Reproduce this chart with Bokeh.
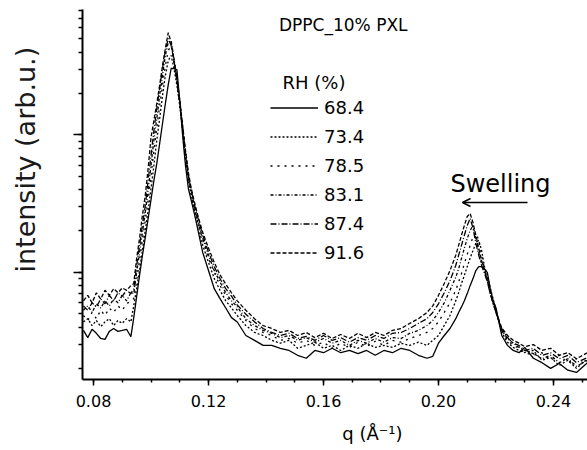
import math
import numpy as np
from bokeh.plotting import figure
from bokeh.models import (Range1d, FixedTicker, CustomJSTickFormatter, Legend, LegendItem,
                          Label, Arrow, OpenHead)
from bokeh.embed import file_html
from bokeh.resources import INLINE

# ---------------- data ----------------
q = [0.0765, 0.078, 0.0795, 0.081, 0.0825, 0.084, 0.0855, 0.087, 0.0885, 0.090, 0.0915, 0.093,
     0.094, 0.095, 0.096, 0.097, 0.098, 0.099, 0.100, 0.101, 0.102, 0.103, 0.104, 0.105, 0.106,
     0.107, 0.108, 0.109, 0.110, 0.111, 0.112, 0.113, 0.114, 0.115, 0.116,
     0.118, 0.120, 0.122, 0.124, 0.126, 0.128, 0.130,
     0.133, 0.136, 0.139, 0.142, 0.145, 0.148, 0.151, 0.154, 0.157, 0.160, 0.163, 0.166, 0.169,
     0.172, 0.175, 0.178, 0.181, 0.184, 0.187, 0.190, 0.193,
     0.196, 0.198, 0.200, 0.202, 0.204, 0.206,
     0.207, 0.208, 0.209, 0.210, 0.211, 0.212, 0.213, 0.214, 0.215, 0.216, 0.217, 0.218, 0.219, 0.220,
     0.222, 0.224, 0.226, 0.228, 0.230,
     0.233, 0.236, 0.239, 0.242, 0.245, 0.248,
     0.2518]

rh_labels = ["68.4", "73.4", "78.5", "83.1", "87.4", "91.6"]

I_68_4 = [37.8, 33.5, 38.5, 36, 33, 32.5, 37.2, 39, 37.2, 37.8, 38.5, 34,
          46.8, 66.5, 94.6, 132, 179, 246, 338, 465, 618, 864, 1210, 1690, 2320,
          3040, 3040, 2990, 1780, 988, 598, 407, 332, 272, 219,
          139, 103, 76, 64.4, 55, 46.8, 43.5,
          34.7, 32, 29.4, 29.4, 28, 27, 24.9, 23.7, 27, 26, 28, 26, 27, 25.6, 27, 24.9, 27, 26, 28, 27, 24.9,
          23.7, 24.5, 30.5, 34.7, 39, 46,
          51, 56, 62, 70, 80, 90, 103, 110, 110, 106, 99.5, 76, 62, 55,
          34.7, 29.4, 27, 26, 28.4,
          23.7, 22, 20, 21.7, 19.4, 18.7,
          22]

I_73_4 = [43.6, 46, 41, 44.6, 40.3, 43.6, 46, 41, 44.6, 42.5, 46, 43.6,
          57.2, 76, 103, 144, 201, 281, 407, 598, 909, 1310, 1930, 2700, 3470,
          3780, 3040, 2290, 1630, 1075, 672, 465, 362, 291, 238,
          157, 118, 90, 74, 62, 55, 48.5,
          41, 36.5, 34.7, 32, 30.5, 32, 28, 29.4, 31, 28, 29.4, 27, 29.4, 28, 30.5, 28.4, 29.4, 28.4, 30.5, 29.4, 31,
          29.4, 32, 34.7, 41, 48.5, 62,
          71, 83, 95, 110, 127, 144, 163, 171, 144, 110, 95, 77, 64, 53,
          36.5, 31, 28.4, 27, 26,
          27, 22.9, 24, 21, 22.9, 20,
          23.5]

I_78_5 = [48.5, 44.6, 51, 46, 53, 48.5, 55, 51, 57, 53, 59, 62,
          64.4, 87, 122, 170, 238, 332, 505, 769, 1110, 1630, 2290, 3190, 4110,
          4470, 3360, 2480, 1720, 1110, 707, 481, 374, 301, 246,
          171, 126, 99.5, 80, 68, 59, 53,
          44.6, 39, 36.5, 34.7, 32, 33, 30.5, 32, 29.4, 31, 28, 30.5, 28.4, 31, 28.8, 31.5, 29.4, 32, 31, 33, 34.7,
          36.5, 39, 43.6, 51, 60, 74,
          85, 98, 116, 135, 157, 181, 195, 171, 133, 106, 90, 74, 62, 51,
          37.8, 32, 29.4, 28, 26,
          24.9, 26, 22.9, 24.9, 22, 23.5,
          21]

I_83_1 = [53, 57, 51, 59, 55, 62, 57, 64, 60, 68, 62, 71,
          70, 99.5, 139, 194, 272, 393, 598, 909, 1310, 1930, 2700, 3780, 4700,
          4860, 3590, 2570, 1780, 1150, 743, 505, 393, 311, 254,
          176, 133, 103, 85, 71, 62, 56,
          46, 41, 37.8, 36, 33.5, 34.7, 32, 33.5, 31, 33, 30.5, 32, 29.4, 32, 30.5, 33, 31, 33.5, 33, 36, 37.8,
          41, 44.6, 51, 60, 74, 92,
          106, 126, 150, 176, 202, 219, 176, 140, 118, 103, 87, 71, 60, 51,
          37.8, 33, 30.5, 28.4, 27,
          25.6, 23.5, 24.9, 22, 23.5, 20.7,
          22.9]

I_87_4 = [57, 53, 60, 56, 64, 59, 68, 62, 71, 67, 74, 70,
          76, 112, 156, 219, 306, 465, 707, 1075, 1550, 2170, 3040, 4110, 5020,
          4470, 3470, 2480, 1720, 1110, 731, 505, 393, 316, 263,
          186, 140, 110, 90, 76, 67, 58,
          49.5, 43.6, 39, 36.5, 34.7, 36, 33, 34.2, 32, 34.7, 32, 33.5, 31, 33.5, 32, 34.7, 33, 36, 36.5, 39, 42.5,
          46, 51, 59, 71, 87, 112,
          133, 157, 186, 219, 247, 210, 163, 133, 112, 98, 85, 70, 59, 52,
          39, 33.5, 30.5, 29.4, 27,
          28, 24.9, 26, 23.5, 24.9, 22,
          24]

I_91_6 = [62, 68, 60, 71, 64, 74, 68, 76, 71, 77, 74, 80,
          82.8, 126, 176, 259, 362, 568, 956, 1270, 1690, 2290, 3190, 4250, 5550,
          4700, 3470, 2570, 1780, 1170, 769, 532, 407, 332, 272,
          195, 150, 118, 96, 82, 71, 62,
          53, 46, 41, 39, 36.5, 37.8, 34.7, 36.5, 33.5, 36, 33, 35.3, 33, 36, 33.5, 36.5, 34.7, 37.8, 39, 42.5, 46,
          51, 57, 68, 83, 103, 133,
          157, 186, 219, 255, 268, 230, 186, 150, 122, 103, 87, 71, 60, 51,
          39.5, 34.7, 32, 30.5, 28.8,
          29.8, 27, 28, 24.9, 26, 23.5,
          26]

series = [I_68_4, I_73_4, I_78_5, I_83_1, I_87_4, I_91_6]
dashes = ["solid", "2 2", "2 5", "3 2 1 2", "6 2 1 2", "4 2"]

x_ticks = [0.08, 0.12, 0.16, 0.20, 0.24]
x_tick_labels = ["0.08", "0.12", "0.16", "0.20", "0.24"]
x_minor_ticks = [round(v, 2) for v in np.arange(0.07, 0.2601, 0.01)]

FONT = "DejaVu Sans"

# ---------------- figure ----------------
p = figure(width=587, height=450, y_axis_type="log",
           x_range=Range1d(0.07617, 0.25183), y_range=Range1d(16.6, 8170),
           output_backend="svg", toolbar_location=None,
           min_border_left=82, min_border_right=0, min_border_top=9, min_border_bottom=71)
p.outline_line_color = None
p.xgrid.grid_line_color = None
p.ygrid.grid_line_color = None
p.background_fill_color = "white"
p.border_fill_color = "white"

renderers = []
for ys, dash in zip(series, dashes):
    r = p.line(q, ys, line_color="black", line_width=1.3, line_dash=dash)
    renderers.append(r)

# x axis
xa = p.xaxis[0]
xa.ticker = FixedTicker(ticks=x_ticks, minor_ticks=x_minor_ticks)
xa.major_label_overrides = dict(zip(x_ticks, x_tick_labels))
xa.axis_line_width = 2
xa.axis_line_color = "black"
xa.major_tick_in = 0
xa.major_tick_out = 6
xa.minor_tick_in = 0
xa.minor_tick_out = 3
xa.major_tick_line_width = 1.5
xa.minor_tick_line_width = 1.5
xa.major_label_standoff = 9
xa.major_label_text_font = FONT
xa.major_label_text_font_size = "16px"
xa.major_label_text_color = "black"

# y axis (log, no labels)
ya = p.yaxis[0]
ya.formatter = CustomJSTickFormatter(code="return ''")
ya.axis_line_width = 2
ya.axis_line_color = "black"
ya.major_tick_in = 0
ya.major_tick_out = 9
ya.minor_tick_in = 0
ya.minor_tick_out = 4
ya.major_tick_line_width = 1.5
ya.minor_tick_line_width = 1.5

# legend
legend = Legend(items=[LegendItem(label=lab, renderers=[r]) for lab, r in zip(rh_labels, renderers)],
                location=(188, 116), orientation="vertical",
                glyph_width=48, glyph_height=21, label_height=21, spacing=8,
                padding=0, margin=0, label_standoff=6,
                label_text_font=FONT, label_text_font_size="18px", label_text_color="black",
                border_line_color=None, background_fill_alpha=0)
p.add_layout(legend)

def lab(text, x, y, size, align="center", angle=0.0, units="screen", place="center", color="black"):
    p.add_layout(Label(x=x, y=y, x_units=units, y_units=units, text=text,
                       text_align=align, text_baseline="middle", angle=angle,
                       text_font=FONT, text_font_size=size, text_color=color), place)

lab("DPPC_10% PXL", 325, 355, "17px", align="right")
lab("RH (%)", 200, 297, "18px", align="left")
lab("Swelling", 418, 196, "24px")
# axis titles placed in the side panels (data coordinates, outside the frame)
lab("q (Å⁻¹)", 0.1770, 6.7, "18px", units="data", place="below")
lab("intensity (arb.u.)", 0.0562, 660, "27px", angle=math.pi / 2, units="data", place="left",
    color="#1a1a1a")

p.add_layout(Arrow(end=OpenHead(size=8, line_width=1.5, line_color="black"),
                   x_start=445, y_start=177, x_end=380, y_end=177,
                   start_units="screen", end_units="screen",
                   line_width=1.5, line_color="black"))

open("out.html", "w").write(file_html(p, INLINE))
